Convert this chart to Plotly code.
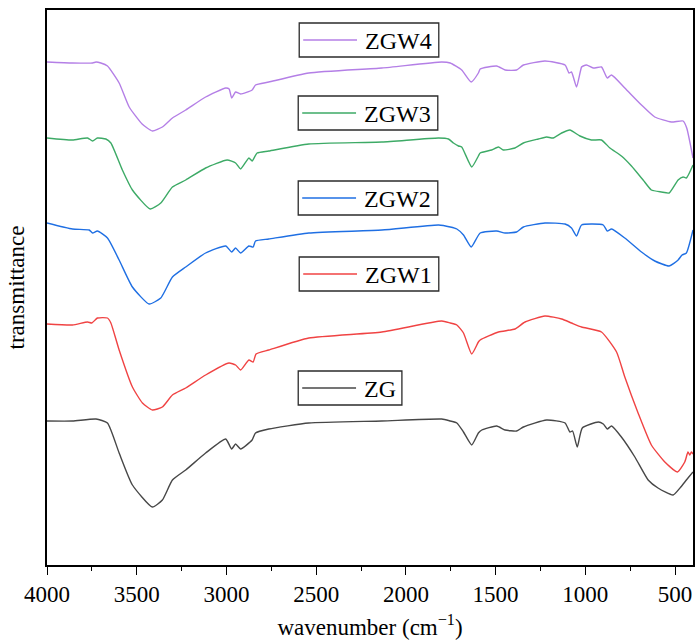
import plotly.graph_objects as go

# FTIR spectra of the ZG sample series (transmittance in arbitrary, offset units)
zgw4_wn = [4000, 3858, 3746, 3727, 3700, 3663, 3598, 3542, 3470, 3413, 3357, 3301, 3227, 3116,
           3004, 2985, 2971, 2949, 2921, 2857, 2838, 2764, 2541, 2134, 1800, 1753, 1689, 1636,
           1596, 1586, 1494, 1447, 1383, 1345, 1225, 1113, 1091, 1077, 1049, 1021, 1012, 993,
           956, 910, 900, 878, 854, 780, 687, 613, 521, 455, 435, 400]
zgw4_t = [503, 502, 502, 503, 502, 499, 482, 458, 441, 434, 438, 447, 455, 468,
          477, 476, 467, 473, 471, 475, 480, 483, 492, 497, 503, 502, 495, 483,
          492, 496, 499, 495, 495, 500, 504, 500, 492, 493, 478, 498, 499, 500,
          497, 498, 495, 487, 490, 477, 460, 448, 443, 444, 437, 407]

zgw3_wn = [4000, 3858, 3774, 3746, 3719, 3672, 3644, 3580, 3524, 3425, 3366, 3301, 3227, 3116,
           2996, 2949, 2921, 2875, 2857, 2829, 2764, 2541, 2134, 1818, 1763, 1735, 1707, 1689,
           1633, 1596, 1586, 1522, 1484, 1457, 1392, 1345, 1262, 1216, 1179, 1132, 1086, 1030,
           966, 910, 863, 799, 743, 678, 632, 576, 533, 483, 455, 437, 400]
zgw3_t = [427, 425, 427, 424, 427, 426, 422, 395, 375, 356, 362, 378, 385, 397,
          405, 402, 396, 407, 404, 412, 414, 421, 423, 427, 426, 422, 419, 418,
          398, 409, 412, 415, 418, 415, 417, 422, 426, 428, 427, 432, 435, 429,
          425, 425, 417, 409, 399, 385, 375, 373, 372, 385, 388, 387, 400]

zgw2_wn = [4000, 3858, 3765, 3746, 3719, 3663, 3598, 3524, 3431, 3366, 3301, 3227, 3116, 3004,
           2971, 2949, 2921, 2875, 2851, 2838, 2764, 2541, 2134, 1818, 1753, 1716, 1679, 1636,
           1586, 1494, 1447, 1383, 1345, 1225, 1113, 1077, 1049, 1021, 900, 878, 854, 780,
           687, 613, 533, 483, 461, 437, 400]
zgw2_t = [342, 336, 335, 332, 334, 327, 305, 278, 261, 267, 288, 298, 312, 319,
          313, 317, 312, 319, 318, 324, 326, 332, 335, 340, 338, 336, 330, 318,
          332, 334, 332, 333, 338, 342, 341, 337, 329, 340, 340, 334, 336, 327,
          313, 304, 299, 305, 310, 312, 335]

zgw1_wn = [4000, 3858, 3774, 3750, 3719, 3663, 3644, 3598, 3524, 3468, 3413, 3357, 3301, 3227,
           3116, 2986, 2949, 2921, 2875, 2851, 2835, 2764, 2541, 2134, 1800, 1753, 1716, 1679,
           1633, 1596, 1586, 1484, 1392, 1336, 1225, 1132, 1077, 1021, 910, 826, 780, 706,
           632, 557, 487, 446, 428, 418, 409, 400]
zgw1_t = [241, 240, 243, 242, 247, 247, 242, 215, 178, 162, 155, 158, 170, 177,
          190, 202, 200, 195, 205, 203, 211, 215, 227, 233, 244, 242, 240, 232,
          211, 223, 225, 233, 236, 243, 249, 246, 242, 238, 233, 213, 188, 152,
          120, 103, 93, 103, 113, 110, 113, 111]

zg_wn = [4000, 3858, 3727, 3663, 3598, 3524, 3413, 3357, 3301, 3227, 3116, 3004, 2971, 2949,
         2921, 2857, 2838, 2764, 2541, 2134, 1800, 1753, 1716, 1679, 1633, 1596, 1577, 1494,
         1447, 1383, 1345, 1216, 1113, 1086, 1071, 1045, 1017, 928, 900, 878, 854, 799,
         724, 650, 595, 511, 468, 437, 400]
zg_t = [144, 144, 146, 142, 112, 80, 58, 65, 85, 95, 112, 126, 116, 121,
        116, 125, 132, 136, 142, 144, 146, 144, 142, 133, 120, 132, 135, 139,
        135, 134, 138, 145, 142, 133, 134, 118, 137, 143, 141, 136, 139, 128,
        108, 85, 77, 70, 78, 85, 93]

series_names = ["ZG", "ZGW1", "ZGW2", "ZGW3", "ZGW4"]
series_wn = [zg_wn, zgw1_wn, zgw2_wn, zgw3_wn, zgw4_wn]
series_t = [zg_t, zgw1_t, zgw2_t, zgw3_t, zgw4_t]
series_colors = ["#474747", "#F04343", "#1F6FE3", "#3DAA66", "#B47FE6"]

FONT = "Liberation Serif"

W, H = 696, 641
M_L, M_R, M_T, M_B = 47, 1, 10, 76
PLOT_W = W - M_L - M_R
PLOT_H = H - M_T - M_B

fig = go.Figure()
for name, wn, t, col in zip(series_names, series_wn, series_t, series_colors):
    fig.add_trace(go.Scatter(
        x=wn, y=t, mode="lines", name=name,
        line=dict(color=col, width=1.4, shape="spline", smoothing=0.5),
        showlegend=False,
    ))


def fx(p):
    return (p - M_L) / PLOT_W


def fy(p):
    return (H - M_B - p) / PLOT_H


# individual boxed labels: (left, right, top, bottom) in page pixels
label_boxes = {
    "ZGW4": (300, 440, 23, 57),
    "ZGW3": (299, 439, 96, 130),
    "ZGW2": (299, 439, 181, 215),
    "ZGW1": (300, 440, 257, 291),
    "ZG": (299, 403, 371, 405),
}
for name, col in zip(series_names, series_colors):
    l, r, t, b = label_boxes[name]
    cy = (t + b) / 2
    fig.add_shape(type="rect", xref="paper", yref="paper",
                  x0=fx(l), x1=fx(r), y0=fy(b), y1=fy(t),
                  line=dict(color="#2b2b2b", width=1.3), fillcolor="white", layer="above")
    fig.add_shape(type="line", xref="paper", yref="paper",
                  x0=fx(l + 4), x1=fx(l + 58), y0=fy(cy), y1=fy(cy),
                  line=dict(color=col, width=1.4), layer="above")
    fig.add_annotation(xref="paper", yref="paper", x=fx(l + 64), y=fy(cy + 1),
                       text=name, showarrow=False, xanchor="left", yanchor="middle",
                       font=dict(family=FONT, size=24, color="black"))

fig.update_layout(
    width=W, height=H,
    margin=dict(l=M_L, r=M_R, t=M_T, b=M_B),
    plot_bgcolor="white", paper_bgcolor="white",
    font=dict(family=FONT, size=23, color="black"),
    xaxis=dict(
        range=[4000, 400], tickmode="linear", tick0=500, dtick=500,
        ticks="outside", ticklen=8, tickwidth=1.4, tickcolor="black",
        minor=dict(ticks="outside", ticklen=4, tickwidth=1.4, tickcolor="black", dtick=250, tick0=500),
        showline=True, linecolor="black", linewidth=1.6, mirror=True,
        showgrid=False, zeroline=False,
        tickfont=dict(family=FONT, size=23, color="black"),
        title=dict(text="wavenumber (cm<sup>−1</sup>)", font=dict(family=FONT, size=23, color="black"), standoff=12),
    ),
    yaxis=dict(
        range=[0, 555], showticklabels=False, ticks="",
        showline=True, linecolor="black", linewidth=1.6, mirror=True,
        showgrid=False, zeroline=False,
        title=dict(text="transmittance", font=dict(family=FONT, size=23, color="black"), standoff=14),
    ),
)

fig.write_html("out.html")
